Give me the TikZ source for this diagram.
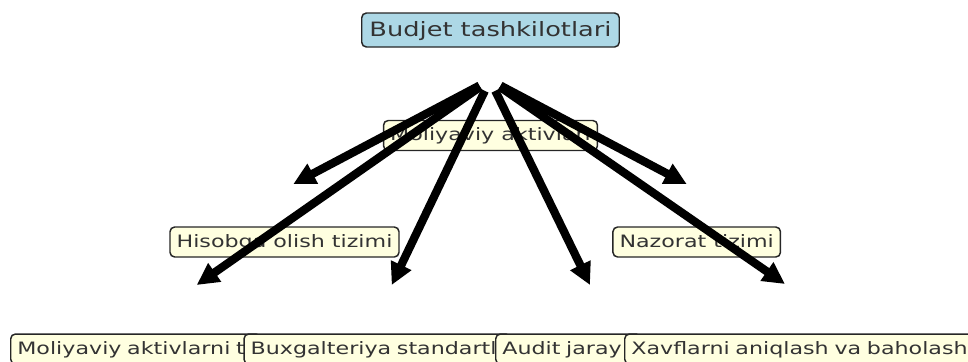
\documentclass[tikz,border=0pt]{standalone}
\usepackage{fontspec}
\newfontfamily\lblfont[FakeStretch=1.3]{DejaVu Sans}
\usetikzlibrary{arrows.meta}
\definecolor{boxblue}{HTML}{ADD8E6}
\definecolor{boxyellow}{HTML}{FFFFE0}
\definecolor{txtgray}{HTML}{333333}
\begin{document}
\begin{tikzpicture}[x=0.75pt,y=-0.75pt,
  lbl/.style={draw=black!85, line width=1.1pt, rounded corners=3.5pt, fill=boxyellow,
    text=txtgray, inner xsep=4.95pt, inner ysep=0pt, minimum height=22.5pt,
    text height=10.9pt, text depth=2.9pt, font=\fontsize{12.8pt}{15pt}\lblfont},
  toplbl/.style={lbl, fill=boxblue, inner xsep=5.8pt, minimum height=25.5pt,
    text height=12.7pt, text depth=3.4pt, font=\fontsize{14.8pt}{17pt}\lblfont},
  rowbox/.style={lbl, anchor=north west, align=left},
  edge/.style={line width=6.2pt, -{Triangle[length=16.5pt,width=16pt]}, shorten <=9pt}
]
\useasboundingbox (0,0) rectangle (968,361);

% nodes
\node[toplbl] (top) at (490.5,30) {Budjet tashkilotlari};
\node[lbl] (mid) at (490.5,135.5) {Moliyaviy aktivlari};
\node[lbl] (his) at (284.5,242) {Hisobga olish tizimi};
\node[lbl] (naz) at (696.7,242) {Nazorat tizimi};

\node[rowbox, text width=177.6pt] (b1) at (10,333.3) {Moliyaviy aktivlarni t};
\node[rowbox, text width=190pt] (b2) at (243.3,333.3) {Buxgalteriya standartl};
\node[rowbox, text width=99pt] (b3) at (495,333.3) {Audit jaray};
\node[rowbox, text width=270pt] (b4) at (624,333.3) {Xavflarni aniqlash va baholash};

% arrow end points
\coordinate (src) at (490,80);
\coordinate (t1) at (293.3,184);
\coordinate (t2) at (196.7,285);
\coordinate (t3) at (391.7,285);
\coordinate (t4) at (590,285);
\coordinate (t5) at (785,284);
\coordinate (t6) at (686.7,184);

\draw[edge] (src) -- (t1);
\draw[edge] (src) -- (t2);
\draw[edge] (src) -- (t3);
\draw[edge] (src) -- (t4);
\draw[edge] (src) -- (t5);
\draw[edge] (src) -- (t6);
\end{tikzpicture}
\end{document}
